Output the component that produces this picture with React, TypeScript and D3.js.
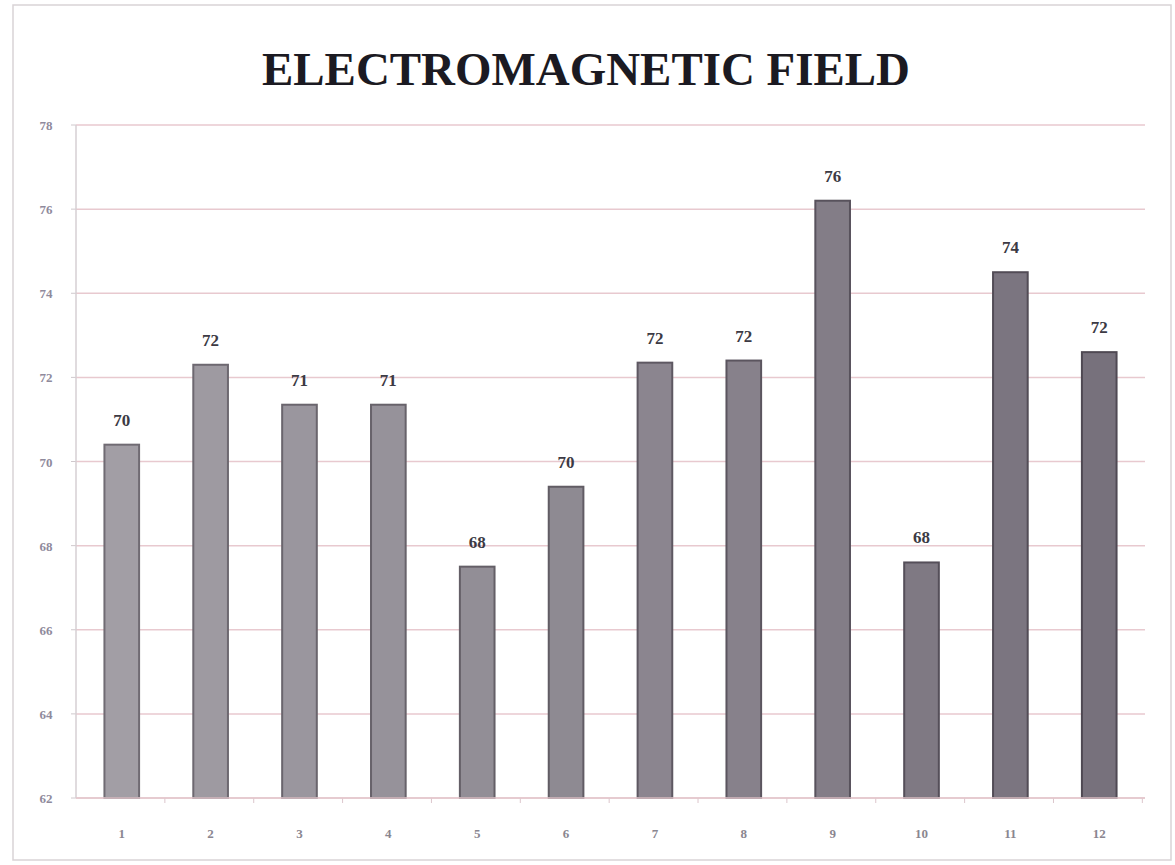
import React from "react";
import * as d3 from "d3";

const categories = ["1", "2", "3", "4", "5", "6", "7", "8", "9", "10", "11", "12"];
const values = [70.4, 72.3, 71.35, 71.35, 67.5, 69.4, 72.35, 72.4, 76.2, 67.6, 74.5, 72.6];
const valueLabels = ["70", "72", "71", "71", "68", "70", "72", "72", "76", "68", "74", "72"];
const yTicks = [62, 64, 66, 68, 70, 72, 74, 76, 78];
const title = "ELECTROMAGNETIC FIELD";

const W = 1175;
const H = 865;
const margin = { left: 76, right: 30, top: 125, bottom: 67 };

export default function App() {
  const x = d3
    .scaleBand<string>()
    .domain(categories)
    .range([margin.left, W - margin.right])
    .paddingInner(0.61)
    .paddingOuter(0.32);
  const y = d3.scaleLinear().domain([62, 78]).range([H - margin.bottom, margin.top]);
  const fillColor = d3.interpolateRgb("#a29ea5", "#77717c");
  const strokeColor = d3.interpolateRgb("#706b73", "#4f4953");
  const bottomY = y(62);
  const xStep = x.step();

  return (
    <svg
      width={W}
      height={H}
      style={{ position: "absolute", left: 0, top: 0, background: "#ffffff" }}
      fontFamily="'Liberation Serif', 'DejaVu Serif', serif"
    >
      <rect x={0} y={0} width={W} height={H} fill="#ffffff" />
      <rect x={13} y={5} width={1158} height={855} fill="none" stroke="#d9d3d6" strokeWidth={1.5} />
      <text
        x={586}
        y={85}
        textAnchor="middle"
        fontSize={46}
        fontWeight="bold"
        fill="#1b1a22"
        textLength={648}
        lengthAdjust="spacingAndGlyphs"
      >
        {title}
      </text>
      {/* gridlines */}
      {yTicks.map((t) => (
        <g key={t}>
          <line
            x1={margin.left}
            x2={W - margin.right}
            y1={y(t)}
            y2={y(t)}
            stroke="#e8c9cf"
            strokeWidth={1.5}
          />
          <line x1={margin.left - 5} x2={margin.left} y1={y(t)} y2={y(t)} stroke="#cfc8cc" />
          <text
            x={46}
            y={y(t) + 5}
            textAnchor="middle"
            fontSize={13}
            fontWeight="bold"
            fill="#8f8a9c"
          >
            {t}
          </text>
        </g>
      ))}
      {/* y axis */}
      <line x1={margin.left} x2={margin.left} y1={y(78)} y2={bottomY} stroke="#d6cfd3" strokeWidth={1.5} />
      {/* x axis ticks */}
      {categories.map((c, i) => (
        <line
          key={"tk" + c}
          x1={margin.left + xStep * (i + 1)}
          x2={margin.left + xStep * (i + 1)}
          y1={bottomY}
          y2={bottomY + 5}
          stroke="#dcc6cc"
        />
      ))}
      {/* bars */}
      {categories.map((c, i) => {
        const t = i / (categories.length - 1);
        const bx = x(c)!;
        const by = y(values[i]);
        return (
          <g key={c}>
            <rect
              x={bx}
              y={by}
              width={x.bandwidth()}
              height={bottomY - by}
              fill={fillColor(t)}
              stroke={strokeColor(t)}
              strokeWidth={2}
            />
            <text
              x={bx + x.bandwidth() / 2}
              y={by - 19}
              textAnchor="middle"
              fontSize={17}
              fontWeight="bold"
              fill="#3c3a44"
            >
              {valueLabels[i]}
            </text>
            <text
              x={bx + x.bandwidth() / 2}
              y={bottomY + 40}
              textAnchor="middle"
              fontSize={13}
              fontWeight="bold"
              fill="#8a8690"
            >
              {c}
            </text>
          </g>
        );
      })}
      <line x1={margin.left} x2={W - margin.right} y1={bottomY} y2={bottomY} stroke="#e3c7cd" strokeWidth={1.5} />
    </svg>
  );
}
